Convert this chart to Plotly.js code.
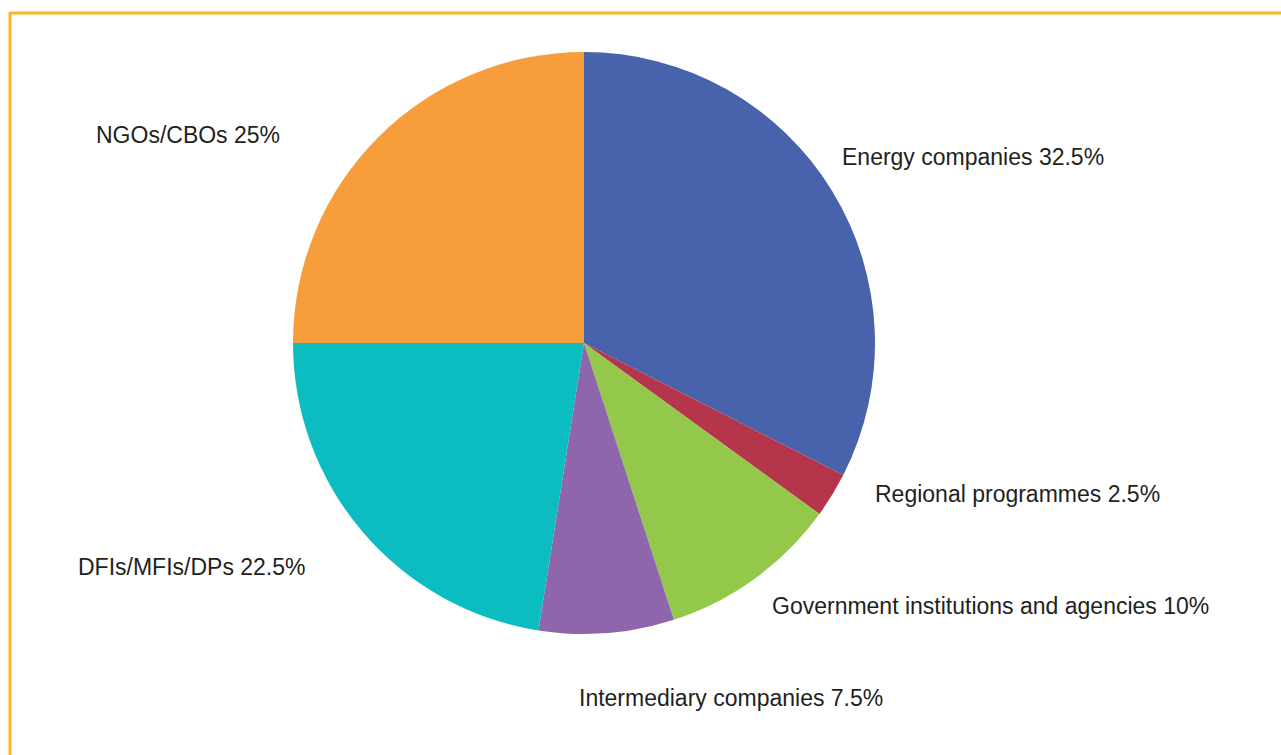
<!DOCTYPE html>
<html>
<head>
<meta charset="utf-8">
<script src="https://cdn.plot.ly/plotly-3.0.1.min.js"></script>
<style>
html,body{margin:0;padding:0;background:#fff;}
#chart{width:1281px;height:755px;}
</style>
</head>
<body>
<div id="chart"></div>
<script>
const categories = ["Energy companies", "Regional programmes", "Government institutions and agencies", "Intermediary companies", "DFIs/MFIs/DPs", "NGOs/CBOs"];
const shares = [32.5, 2.5, 10, 7.5, 22.5, 25];
const shareLabels = ["32.5%", "2.5%", "10%", "7.5%", "22.5%", "25%"];
const colors = ["#4863AB", "#B5364A", "#93C84A", "#8F66AB", "#0BBCC1", "#F89D3C"];

// label anchor positions (paper coords, left-anchored)
const labelPos = [
  [840/1281, 1 - 157/755],
  [873/1281, 1 - 494/755],
  [770/1281, 1 - 606/755],
  [577/1281, 1 - 698/755],
  [76/1281, 1 - 567/755],
  [94/1281, 1 - 135/755]
];

const annotations = categories.map((c, i) => ({
  text: c + " " + shareLabels[i],
  xref: "paper", yref: "paper",
  x: labelPos[i][0], y: labelPos[i][1],
  xanchor: "left", yanchor: "middle",
  showarrow: false,
  font: {family: "Liberation Sans, Arial, sans-serif", size: 23, color: "#231F20"}
}));

const trace = {
  type: "pie",
  labels: categories,
  values: shares,
  sort: false,
  direction: "clockwise",
  rotation: 0,
  marker: {colors: colors, line: {width: 0}},
  textinfo: "none",
  hoverinfo: "label+percent",
  showlegend: false,
  domain: {x: [293/1281, 875/1281], y: [(755-634)/755, (755-52)/755]}
};

const layout = {
  width: 1281, height: 755,
  margin: {l: 0, r: 0, t: 0, b: 0},
  paper_bgcolor: "#fff",
  showlegend: false,
  annotations: annotations,
  shapes: [
    {type: "line", xref: "paper", yref: "paper", x0: 10/1281, x1: 1.01, y0: 1 - 13/755, y1: 1 - 13/755, line: {color: "#FBB424", width: 3}},
    {type: "line", xref: "paper", yref: "paper", x0: 10/1281, x1: 10/1281, y0: 1 - 12/755, y1: -0.01, line: {color: "#FBB424", width: 3}}
  ]
};

Plotly.newPlot("chart", [trace], layout, {displayModeBar: false, staticPlot: true});
</script>
</body>
</html>
